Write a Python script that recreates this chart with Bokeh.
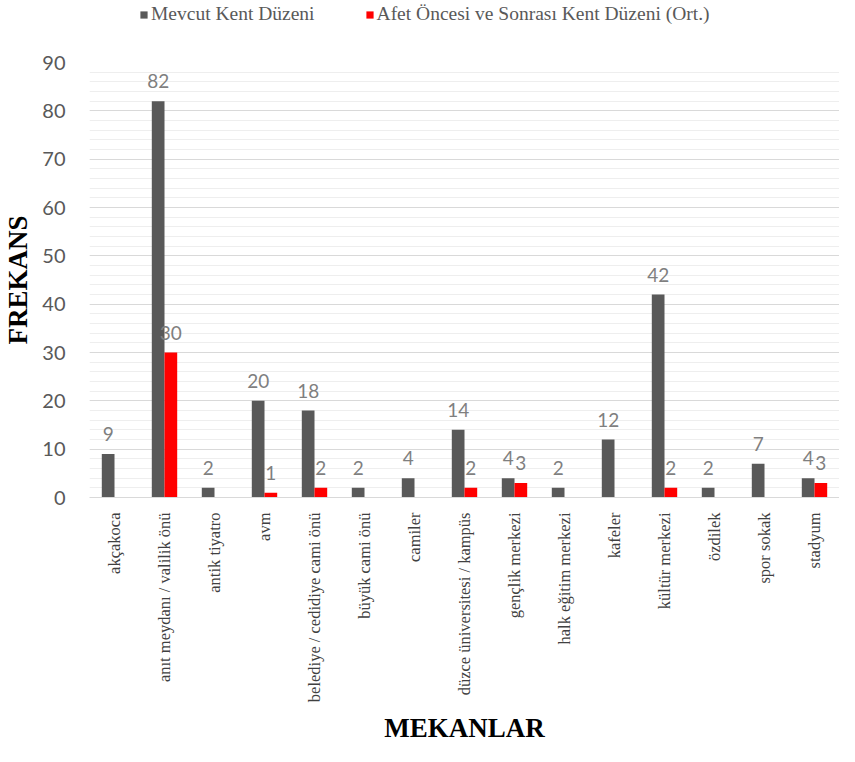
import math
from bokeh.plotting import figure
from bokeh.layouts import column
from bokeh.models import (ColumnDataSource, FactorRange, Range1d, Legend, LegendItem,
                          SingleIntervalTicker)
from bokeh.transform import dodge
from bokeh.core.properties import value
from bokeh.embed import file_html
from bokeh.resources import INLINE

categories = ["akçakoca", "anıt meydanı / valilik önü", "antik tiyatro", "avm",
              "belediye / cedidiye cami önü", "büyük cami önü", "camiler",
              "düzce üniversitesi / kampüs", "gençlik merkezi", "halk eğitim merkezi",
              "kafeler", "kültür merkezi", "özdilek", "spor sokak", "stadyum"]
mevcut = [9, 82, 2, 20, 18, 2, 4, 14, 4, 2, 12, 42, 2, 7, 4]
afet = [0, 30, 0, 1, 2, 0, 0, 2, 3, 0, 0, 2, 0, 0, 3]
series_names = ["Mevcut Kent Düzeni", "Afet Öncesi ve Sonrası Kent Düzeni (Ort.)"]
x_title = "MEKANLAR"
y_title = "FREKANS"
y_min, y_max, y_step = 0, 90, 10

GRAY = "#595959"
RED = "#ff0000"
W, H_TOP, H_MAIN = 839, 40, 706

# ---------- legend strip (its swatch renderers sit outside the strip's visible range) ----------
pl = figure(width=W, height=H_TOP, x_range=Range1d(0, 1), y_range=Range1d(0, 1),
            min_border=0, output_backend="svg", toolbar_location=None,
            x_axis_location=None, y_axis_location=None)
pl.grid.visible = False
pl.outline_line_color = None
g1 = pl.vbar(x=[5], top=[0], width=0.1, fill_color=GRAY, line_color=None)
g2 = pl.vbar(x=[5], top=[0], width=0.1, fill_color=RED, line_color=None)
legend = Legend(items=[LegendItem(label=series_names[0], renderers=[g1]),
                       LegendItem(label=series_names[1], renderers=[g2])],
                orientation="horizontal", location=(50, 15),
                label_text_font="Liberation Serif", label_text_font_size="19.5px",
                label_text_color=GRAY, glyph_width=9, glyph_height=9,
                spacing=50, label_standoff=3, padding=0, margin=0,
                border_line_color=None, background_fill_alpha=0)
pl.add_layout(legend, "center")

# ---------- main chart ----------
p = figure(x_range=FactorRange(*categories), y_range=Range1d(y_min, y_max),
           width=W, height=H_MAIN,
           min_border_left=88, min_border_right=0, min_border_top=22, min_border_bottom=246,
           output_backend="svg", toolbar_location=None)

src = ColumnDataSource(dict(cat=categories, m=mevcut, a=afet))
off = 0.127
p.vbar(x=dodge("cat", -off, range=p.x_range), top="m", width=0.254, source=src,
       fill_color=GRAY, line_color=None)
p.vbar(x=dodge("cat", off, range=p.x_range), top="a", width=0.254, source=src,
       fill_color=RED, line_color=None)

lab_m = ColumnDataSource(dict(cat=[c for c, v in zip(categories, mevcut) if v],
                              v=[v for v in mevcut if v],
                              t=[str(v) for v in mevcut if v]))
lab_a = ColumnDataSource(dict(cat=[c for c, v in zip(categories, afet) if v],
                              v=[v for v in afet if v],
                              t=[str(v) for v in afet if v]))
for s, o in ((lab_m, -off), (lab_a, off)):
    p.text(x=dodge("cat", o, range=p.x_range), y="v", text="t", source=s,
           text_align="center", text_baseline="bottom", y_offset=-13,
           text_font=value("Lato"), text_font_size="19px", text_color="#7f7f7f")

# y axis
p.yaxis.ticker = SingleIntervalTicker(interval=y_step, num_minor_ticks=5)
p.yaxis.axis_line_color = None
p.yaxis.major_tick_line_color = None
p.yaxis.minor_tick_line_color = None
p.yaxis.major_label_text_font = "Lato"
p.yaxis.major_label_text_font_size = "20px"
p.yaxis.major_label_text_color = GRAY
p.yaxis.major_label_standoff = 18
p.yaxis.axis_label = y_title
p.yaxis.axis_label_text_font = "Liberation Serif"
p.yaxis.axis_label_text_font_style = "bold"
p.yaxis.axis_label_text_font_size = "27px"
p.yaxis.axis_label_text_color = "black"
p.yaxis.axis_label_standoff = 6

# x axis
p.xaxis.major_label_orientation = math.pi / 2
p.xaxis.major_label_text_font = "Liberation Serif"
p.xaxis.major_label_text_font_size = "16.5px"
p.xaxis.major_label_text_color = "#404040"
p.xaxis.major_label_standoff = 9
p.xaxis.axis_line_color = "#d9d9d9"
p.xaxis.major_tick_line_color = None
p.xaxis.minor_tick_line_color = None
p.xaxis.axis_label = x_title
p.xaxis.axis_label_text_font = "Liberation Serif"
p.xaxis.axis_label_text_font_style = "bold"
p.xaxis.axis_label_text_font_size = "27px"
p.xaxis.axis_label_text_color = "black"
p.xaxis.axis_label_standoff = 8

p.xgrid.grid_line_color = None
p.ygrid.grid_line_color = "#d9d9d9"
p.ygrid.minor_grid_line_color = "#eeeeee"
p.outline_line_color = None

layout = column(pl, p, spacing=0)
open("out.html", "w").write(file_html(layout, INLINE))
